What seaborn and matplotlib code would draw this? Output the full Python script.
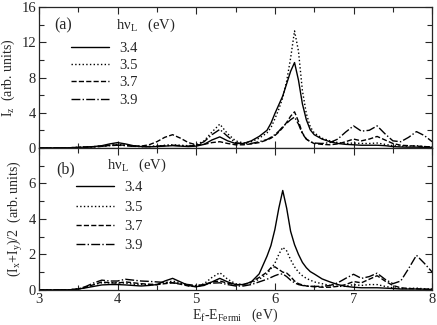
"""
Resonant emission spectra, two panels: I_z and (I_x+I_y)/2 vs E_f - E_Fermi
"""

import numpy as np
import pandas as pd
import matplotlib
matplotlib.use("Agg")
import matplotlib.pyplot as plt
from matplotlib.ticker import MultipleLocator
import seaborn as sns

sns.set_style("ticks")
plt.rcParams['font.family'] = ['Liberation Serif', 'DejaVu Serif']
plt.rcParams['mathtext.fontset'] = 'custom'
plt.rcParams['mathtext.rm'] = 'Liberation Serif'
plt.rcParams['mathtext.it'] = 'Liberation Serif:italic'
plt.rcParams['font.size'] = 10

# energy grid (eV)
energy = [3.0, 3.2, 3.4, 3.5, 3.6, 3.7, 3.8, 3.9, 4.0, 4.1, 4.2, 4.3, 4.4, 4.5,
          4.6, 4.7, 4.8, 4.9, 5.0, 5.1, 5.2, 5.3, 5.4, 5.5, 5.6, 5.7, 5.8, 5.9,
          5.95, 6.0, 6.05, 6.1, 6.15, 6.2, 6.25, 6.3, 6.35, 6.4, 6.45, 6.5,
          6.6, 6.7, 6.8, 6.9, 7.0, 7.1, 7.2, 7.3, 7.4, 7.5, 7.6, 7.7, 7.8, 7.9, 8.0]

photon_energies = ["3.4", "3.5", "3.7", "3.9"]
line_styles = ['-', ':', '--', '-.']

# panel (a): I_z
iz_34 = [0, 0, 0.02, 0.05, 0.1, 0.15, 0.25, 0.45, 0.6, 0.45, 0.25, 0.15, 0.12, 0.15,
         0.2, 0.25, 0.2, 0.15, 0.2, 0.4, 0.9, 1.25, 0.8, 0.5, 0.5, 0.8, 1.3, 2.0,
         2.8, 3.9, 4.9, 5.9, 7.3, 8.7, 9.7, 7.7, 5.0, 3.2, 2.05, 1.5,
         1.0, 0.7, 0.5, 0.4, 0.35, 0.3, 0.3, 0.3, 0.25, 0.15, 0.1, 0.08, 0.08, 0.06, 0.05]
iz_35 = [0, 0, 0.02, 0.05, 0.1, 0.15, 0.2, 0.3, 0.4, 0.3, 0.2, 0.15, 0.15, 0.2,
         0.3, 0.35, 0.3, 0.25, 0.35, 0.8, 1.8, 2.7, 1.6, 0.8, 0.55, 0.7, 1.1, 1.7,
         2.3, 3.3, 4.4, 5.7, 7.6, 10.2, 13.3, 11.0, 6.5, 3.9, 2.4, 1.7,
         1.1, 0.8, 0.6, 0.5, 0.55, 0.5, 0.5, 0.55, 0.4, 0.25, 0.2, 0.2, 0.25, 0.15, 0.1]
iz_37 = [0, 0, 0.02, 0.05, 0.08, 0.12, 0.18, 0.28, 0.35, 0.3, 0.2, 0.2, 0.35, 0.7,
         1.2, 1.5, 1.1, 0.6, 0.35, 0.4, 0.6, 0.7, 0.5, 0.35, 0.35, 0.45, 0.6, 0.9,
         1.1, 1.4, 1.8, 2.3, 2.9, 3.6, 4.1, 3.0, 1.7, 1.0, 0.7, 0.5,
         0.4, 0.35, 0.45, 0.7, 1.0, 0.8, 1.0, 1.3, 0.9, 0.5, 0.3, 0.25, 0.2, 0.15, 0.1]
iz_39 = [0, 0, 0.02, 0.05, 0.08, 0.12, 0.18, 0.25, 0.3, 0.25, 0.18, 0.15, 0.15, 0.2,
         0.25, 0.3, 0.25, 0.2, 0.3, 0.7, 1.5, 2.1, 1.3, 0.6, 0.45, 0.5, 0.7, 0.95,
         1.2, 1.5, 1.9, 2.4, 2.8, 3.2, 3.5, 2.7, 1.6, 1.0, 0.7, 0.55,
         0.5, 0.6, 1.0, 1.8, 2.5, 1.9, 2.0, 2.5, 1.6, 0.8, 0.7, 1.2, 1.85, 1.4, 0.7]

# panel (b): (I_x + I_y)/2
ixy_34 = [0, 0, 0.01, 0.05, 0.12, 0.2, 0.28, 0.3, 0.3, 0.28, 0.25, 0.22, 0.25, 0.3,
          0.5, 0.65, 0.45, 0.25, 0.18, 0.25, 0.45, 0.65, 0.45, 0.3, 0.3, 0.45, 0.9, 1.9,
          2.5, 3.4, 4.6, 5.6, 4.6, 3.3, 2.55, 2.0, 1.55, 1.25, 1.03, 0.9,
          0.62, 0.45, 0.3, 0.2, 0.15, 0.12, 0.12, 0.12, 0.1, 0.08, 0.05, 0.05, 0.05, 0.04, 0.03]
ixy_35 = [0, 0, 0.01, 0.05, 0.15, 0.3, 0.4, 0.4, 0.42, 0.38, 0.32, 0.3, 0.3, 0.3,
          0.4, 0.5, 0.4, 0.25, 0.2, 0.35, 0.7, 0.97, 0.6, 0.35, 0.3, 0.4, 0.6, 0.9,
          1.2, 1.5, 2.0, 2.4, 2.2, 1.7, 1.3, 1.0, 0.8, 0.65, 0.55, 0.45,
          0.35, 0.25, 0.2, 0.2, 0.3, 0.25, 0.3, 0.3, 0.2, 0.12, 0.08, 0.08, 0.1, 0.06, 0.05]
ixy_37 = [0, 0, 0.01, 0.05, 0.15, 0.3, 0.45, 0.4, 0.38, 0.45, 0.4, 0.35, 0.32, 0.3,
          0.35, 0.4, 0.32, 0.22, 0.18, 0.3, 0.45, 0.5, 0.38, 0.28, 0.3, 0.45, 0.7, 1.0,
          1.25, 1.3, 1.15, 1.0, 0.95, 0.75, 0.5, 0.35, 0.28, 0.22, 0.2, 0.18,
          0.15, 0.15, 0.2, 0.3, 0.47, 0.4, 0.6, 0.8, 0.5, 0.25, 0.12, 0.08, 0.06, 0.04, 0.03]
ixy_39 = [0, 0, 0.01, 0.05, 0.2, 0.4, 0.55, 0.5, 0.5, 0.6, 0.55, 0.5, 0.48, 0.45,
          0.42, 0.4, 0.35, 0.3, 0.25, 0.3, 0.38, 0.4, 0.3, 0.22, 0.22, 0.3, 0.45, 0.6,
          0.7, 0.8, 0.88, 0.9, 0.75, 0.55, 0.4, 0.3, 0.25, 0.22, 0.2, 0.2,
          0.2, 0.25, 0.4, 0.65, 0.88, 0.65, 0.75, 0.94, 0.6, 0.35, 0.5, 1.2, 1.95, 1.5, 1.0]

panel_a = [iz_34, iz_35, iz_37, iz_39]
panel_b = [ixy_34, ixy_35, ixy_37, ixy_39]


def draw_panel(ax, series, tag, leg_x, leg_y, leg_gap, title_x, title_y):
    for vals, hv, ls in zip(series, photon_energies, line_styles):
        df = pd.DataFrame({'E': energy, 'I': vals})
        sns.lineplot(data=df, x='E', y='I', ax=ax, color='black',
                     linestyle=ls, lw=1.0, label=hv)
    ax.legend(loc='upper left', bbox_to_anchor=(leg_x, leg_y), frameon=False,
              handlelength=2.6, handletextpad=0.7, labelspacing=leg_gap,
              borderpad=0, borderaxespad=0, fontsize=10.5)
    ax.text(tag[1], tag[2], tag[0], transform=ax.transAxes, fontsize=11.5,
            va='center', ha='left')
    ax.text(title_x, title_y, u'h\u03bd$_{\\rm L}$   (eV)', transform=ax.transAxes,
            fontsize=10.5, va='center', ha='left')
    ax.set_xlim(3, 8)
    ax.xaxis.set_major_locator(MultipleLocator(1))
    ax.xaxis.set_minor_locator(MultipleLocator(0.5))
    ax.tick_params(which='both', direction='in', top=True, right=True,
                   labelsize=10.5, width=0.8, pad=2)
    ax.tick_params(which='major', length=5)
    ax.tick_params(which='minor', length=3.5)
    for s in ax.spines.values():
        s.set_linewidth(0.9)


fig = plt.figure(figsize=(4.37, 3.25), dpi=100)
fig.patch.set_facecolor('white')
ax_a = fig.add_axes([0.089, 0.545, 0.9, 0.433])
ax_b = fig.add_axes([0.089, 0.108, 0.9, 0.437])

draw_panel(ax_a, panel_a, ('(a)', 0.038, 0.87), 0.081, 0.755, 0.28, 0.195, 0.872)
ax_a.set_ylim(0, 16)
ax_a.yaxis.set_major_locator(MultipleLocator(4))
ax_a.yaxis.set_minor_locator(MultipleLocator(2))
ax_a.set_xticklabels([])
ax_a.set_xlabel('')
ax_a.set_ylabel(r'I$_{\rm z}$  (arb. units)', fontsize=10, labelpad=3)

draw_panel(ax_b, panel_b, ('(b)', 0.045, 0.845), 0.094, 0.765, 0.42, 0.173, 0.88)
ax_b.set_ylim(0, 8)
ax_b.set_yticks([0, 2, 4, 6])
ax_b.yaxis.set_minor_locator(MultipleLocator(1))
ax_b.set_xlabel(r'E$_{\rm f}$-E$_{\rm Fermi}$   (eV)', fontsize=10, labelpad=1)
ax_b.set_ylabel(r'(I$_{\rm x}$+I$_{\rm y}$)/2  (arb. units)', fontsize=10, labelpad=3)

fig.savefig('out.png', dpi=100, facecolor='white')
